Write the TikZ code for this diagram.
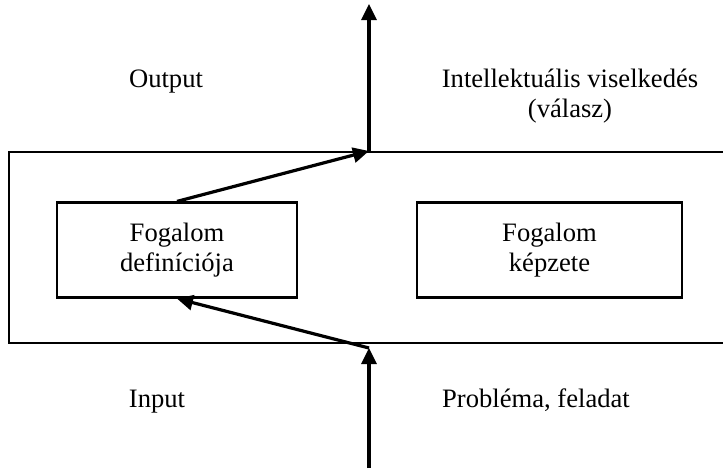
\documentclass[tikz,border=0pt]{standalone}
\usepackage{fontspec}
\setmainfont{Liberation Serif}
\usetikzlibrary{arrows.meta}
\begin{document}
\begin{tikzpicture}[x=1pt,y=-1pt,
  txt/.style={font=\fontsize{26.6}{30}\selectfont},
  box/.style={txt, draw, line width=2.2pt, rectangle, inner sep=0pt,
    align=center, minimum height=95pt},
  frame/.style={draw, line width=2.2pt, rectangle, inner sep=0pt,
    minimum width=740pt, minimum height=191pt},
  lbl/.style={txt, inner sep=0pt, align=center},
  flow/.style={line width=3.2pt, -{Triangle[length=16pt,width=15pt]}}]
  \useasboundingbox (0,0) rectangle (723,471);
  \clip (0,0) rectangle (723,471);

  % outer system frame (its right side runs past the page edge)
  \node[frame] (sys) at (379,247.5) {};

  % inner concept boxes
  \node[box, minimum width=240pt] (def) at (177,250) {Fogalom\\definíciója};
  \node[box, minimum width=265pt] (kep) at (549.5,250) {Fogalom\\képzete};

  % side labels
  \node[lbl, anchor=base] (out) at (166,87) {Output};
  \node[lbl] (resp) at (570,96) {Intellektuális viselkedés\\(válasz)};
  \node[lbl, anchor=base] (in) at (157,407) {Input};
  \node[lbl, anchor=base] (prob) at (536,407) {Probléma, feladat};

  % end points of the flow arrows
  \coordinate (topend) at (369,4);
  \coordinate (topjoin) at (369,151);
  \coordinate (botstart) at (369,468);
  \coordinate (botjoin) at (369,348);

  % input path: from below into the frame, then to the definition
  \draw[flow] (botstart) -- (botjoin);
  \draw[flow] (botjoin) -- (def.south);
  % output path: from the definition to the frame, then upwards
  \draw[flow] (def.north) -- (topjoin);
  \draw[flow] (topjoin) -- (topend);
\end{tikzpicture}
\end{document}
